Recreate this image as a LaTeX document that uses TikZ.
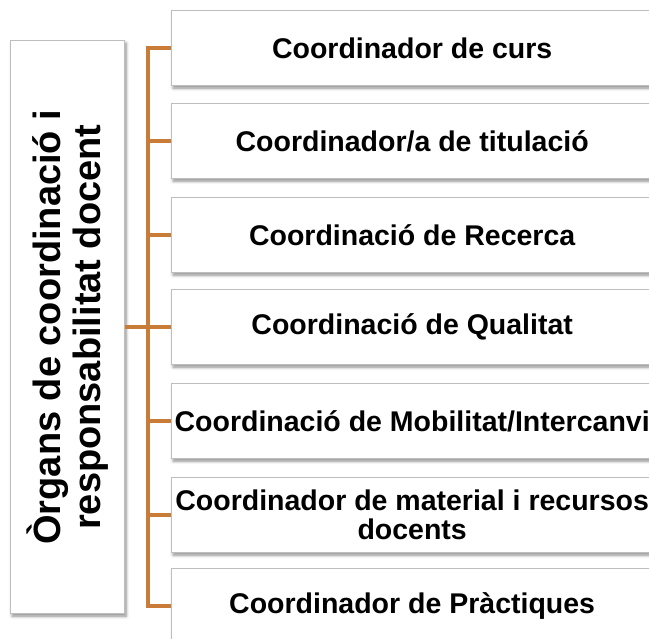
\documentclass[tikz,border=0pt]{standalone}
\usepackage{fontspec}
\setmainfont{Liberation Sans}
\usetikzlibrary{shadows.blur}
\definecolor{bracketc}{RGB}{200,124,56}
\definecolor{boxborder}{RGB}{190,190,190}
\tikzset{
  softshadow/.style={blur shadow={shadow xshift=1.5pt, shadow yshift=-2.5pt, shadow blur steps=6, shadow blur radius=3pt, shadow opacity=45}},
  rbox/.style={draw=boxborder, line width=1.3pt, fill=white, softshadow, anchor=north west,
    minimum width=481pt, minimum height=75pt, inner sep=0pt, align=center,
    font=\fontsize{28.5pt}{29pt}\selectfont\bfseries},
  mainbox/.style={draw=boxborder, line width=1.3pt, fill=white, softshadow, anchor=north west,
    minimum width=114pt, minimum height=573pt, inner sep=0pt},
  maintext/.style={rotate=90, align=center, inner sep=0pt,
    font=\fontsize{38pt}{40pt}\selectfont\bfseries},
  bracket/.style={draw=bracketc, line width=4pt, line join=miter}
}
\begin{document}
\begin{tikzpicture}[x=1pt,y=-1pt]
\useasboundingbox (0,0) rectangle (649,639);
\node[mainbox] (m) at (10,40) {};
\node[maintext] (mt) at (m.center) {Òrgans de coordinació i\\responsabilitat docent};
\node[rbox] (b1) at (171,10) {Coordinador de curs};
\node[rbox] (b2) at (171,103) {Coordinador/a de titulació};
\node[rbox] (b3) at (171,197) {Coordinació de Recerca};
\node[rbox] (b4) at (171,289) {Coordinació de Qualitat};
\node[rbox] (b5) at (171,383) {Coordinació de Mobilitat/Intercanvi};
\node[rbox] (b6) at (171,477) {Coordinador de material i recursos\\docents};
\node[rbox] (b7) at (171,568) {Coordinador de Pràctiques};
\coordinate (bus) at (148,327);
\draw[bracket] (b1.west) -- (b1.west -| bus) -- (b7.west -| bus) -- (b7.west);
\foreach \b in {b2,b3,b4,b5,b6} {
  \draw[bracket] (\b.west) -- (\b.west -| bus);
}
\draw[bracket] (m.east) -- (m.east -| bus);
\end{tikzpicture}
\end{document}
